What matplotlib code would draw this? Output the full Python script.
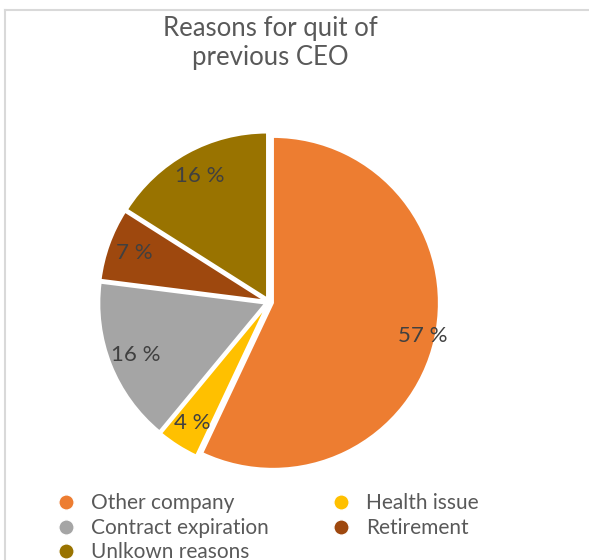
import matplotlib
matplotlib.use("Agg")
import matplotlib.pyplot as plt
from matplotlib.lines import Line2D
import numpy as np

categories = ["Other company", "Health issue", "Contract expiration", "Retirement", "Unlkown reasons"]
values = [57, 4, 16, 7, 16]
colors = ["#ED7D31", "#FFC000", "#A5A5A5", "#9E480E", "#997300"]
title = "Reasons for quit of\nprevious CEO"

plt.rcParams["font.family"] = ["Lato", "DejaVu Sans"]

W, H = 589, 560
fig = plt.figure(figsize=(W / 100, H / 100), dpi=100)
ax = fig.add_axes([0, 0, 1, 1])
ax.axis("off")

cx, cy, r = 269, H - 302, 166
wedges, texts, autotexts = ax.pie(
    values, colors=colors, startangle=90, counterclock=False,
    center=(cx, cy), radius=r, explode=[4] * len(values),
    autopct=lambda p: f"{p:.0f} %", pctdistance=0.84,
    wedgeprops=dict(edgecolor="white", linewidth=1.5),
    textprops=dict(color="#404040", fontsize=16),
)
ax.set_xlim(0, W)
ax.set_ylim(0, H)
ax.set_aspect("equal")
ang = np.deg2rad(90 - values[0] / 2 * 3.6)
autotexts[0].set_position((cx + 0.95 * r * np.cos(ang), cy + 0.95 * r * np.sin(ang)))

fig.text(270 / W, 1 - 43 / H, title, ha="center", va="center", fontsize=18.5,
         color="#595959", linespacing=1.2)

# border of the (cropped) chart area
fig.add_artist(Line2D([5 / W, 5 / W], [0, 1 - 10 / H], color="#D9D9D9", lw=1.5))
fig.add_artist(Line2D([5 / W, 1], [1 - 10 / H, 1 - 10 / H], color="#D9D9D9", lw=1.5))

order = [0, 2, 4, 1, 3]
handles = [Line2D([], [], marker="o", linestyle="", markersize=11,
                  markerfacecolor=colors[i], markeredgecolor="white") for i in order]
labels = [categories[i] for i in order]
leg = fig.legend(handles, labels, loc="upper left", bbox_to_anchor=(47 / W, 1 - 485 / H),
                 ncol=2, frameon=False, fontsize=15, labelcolor="#595959",
                 handletextpad=0.7, columnspacing=3.0, labelspacing=0.22,
                 handlelength=1.0, borderaxespad=0)

fig.savefig("out.png", dpi=100)
